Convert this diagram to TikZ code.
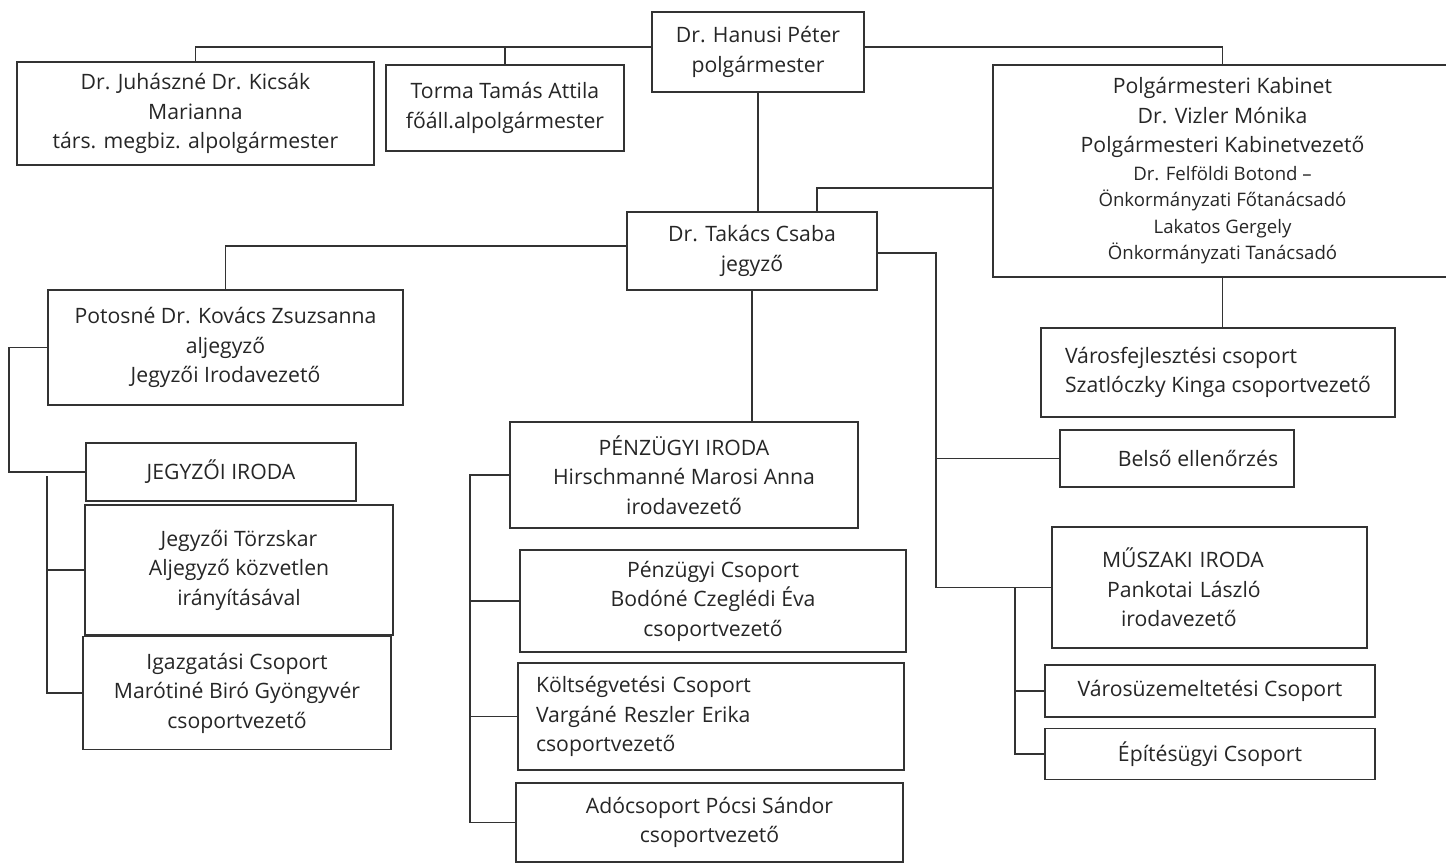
\documentclass[tikz,border=0pt]{standalone}
\usepackage{fontspec}
\setmainfont{Open Sans}
\usetikzlibrary{positioning}
\newcommand{\kabsmall}{\fontsize{9.3}{14.75}\selectfont}

\begin{document}
\begin{tikzpicture}[x=0.5pt, y=-0.5pt]
	\tikzstyle{unit}=[rectangle, draw=black!80, line width=0.8pt, inner sep=2pt, align=center, text=black!85, font=\fontsize{10.6}{14.75}\selectfont]
	\tikzstyle{link}=[draw=black!80, line width=0.8pt]
	\path[use as bounding box, fill=white] (0,0) rectangle (1446,864);
	% mayor and deputies
	\node[unit, minimum width=106pt, minimum height=40pt] (hanusi) at (758,52) {Dr. Hanusi Péter\\polgármester};
	\node[unit, minimum width=178.5pt, minimum height=51.5pt] (juhasz) at (195.5,113.5) {Dr. Juhászné Dr. Kicsák\\Marianna\\társ. megbiz. alpolgármester};
	\node[unit, minimum width=119pt, minimum height=43pt] (torma) at (505,108) {Torma Tamás Attila\\főáll.alpolgármester};
	\node[unit, minimum width=229.5pt, minimum height=106pt] (kabinet) at (1222.5,171) {Polgármesteri Kabinet\\Dr. Vizler Mónika\\Polgármesteri Kabinetvezető\\[-1pt]
		\kabsmall Dr. Felföldi Botond –\\[-1.5pt]\kabsmall Önkormányzati Főtanácsadó\\[-1.5pt]\kabsmall Lakatos Gergely\\[-1.5pt]\kabsmall Önkormányzati Tanácsadó};
	\node[unit, minimum width=125pt, minimum height=39pt] (takacs) at (752,251) {Dr. Takács Csaba\\jegyző};
	\node[unit, minimum width=177pt, minimum height=44.5pt, align=left] (varosf) at (1218,372.5) {Városfejlesztési csoport\\Szatlóczky Kinga csoportvezető};
	% jegyzoi iroda
	\node[unit, minimum width=177.5pt, minimum height=57.5pt] (potos) at (225.5,347.5) {Potosné Dr. Kovács Zsuzsanna\\aljegyző\\Jegyzői Irodavezető};
	\node[unit, minimum width=135pt, minimum height=29pt] (jiroda) at (221,472) {JEGYZŐI IRODA};
	\node[unit, minimum width=154pt, minimum height=65pt] (torzs) at (239,570) {Jegyzői Törzskar\\Aljegyző közvetlen\\irányításával};
	\node[unit, minimum width=154pt, minimum height=56.5pt] (igaz) [below=0pt of torzs, xshift=-1pt] {Igazgatási Csoport\\Marótiné Biró Gyöngyvér\\csoportvezető};
	% penzugyi iroda
	\node[unit, minimum width=174pt, minimum height=53pt] (penz) at (684,475) {PÉNZÜGYI IRODA\\Hirschmanné Marosi Anna\\irodavezető};
	\node[unit, minimum width=193pt, minimum height=51pt] (pcs) at (713,601) {Pénzügyi Csoport\\Bodóné Czeglédi Éva\\csoportvezető};
	\node[unit, minimum height=53.5pt, align=left, inner xsep=9pt, text width=175pt] (kolt) at (711,716.5) {Költségvetési Csoport\\Vargáné Reszler Erika\\csoportvezető};
	\node[unit, minimum width=193.5pt, minimum height=39.5pt] (ado) at (709.5,822.5) {Adócsoport Pócsi Sándor\\csoportvezető};
	% muszaki iroda
	\node[unit, minimum width=117pt, minimum height=28.5pt] (belso) at (1177,458.5) {\hspace*{21pt}Belső ellenőrzés};
	\node[unit, minimum height=60.5pt, align=left, inner xsep=25pt, text width=107.5pt] (muszaki) at (1209.5,587.5) {MŰSZAKI IRODA\\\hspace*{2.5pt}Pankotai László\\\hspace*{9.5pt}irodavezető};
	\node[unit, minimum width=165pt, minimum height=26pt] (varosuz) at (1210,691) {Városüzemeltetési Csoport};
	\node[unit, minimum width=165pt, minimum height=25.5pt] (epit) [below=5pt of varosuz] {Építésügyi Csoport};
	\coordinate (bus r) at (936,0);
	\coordinate (bus jl) at (9,0);
	\coordinate (bus jb) at (47,476);
	\coordinate (bus p) at (470,0);
	\coordinate (bus m) at (1015,0);
	\coordinate (top left) at ([yshift=2.5pt]hanusi.west);
	% connectors
	\draw[link] (top left) -| (juhasz.north);
	\draw[link] (torma.north) -- (torma.north |- top left);
	\draw[link] ([yshift=2.5pt]hanusi.east) -| (kabinet.north);
	\draw[link] (hanusi.south) -- (hanusi.south |- takacs.north);
	\draw[link] ([yshift=-8.5pt]kabinet.west) -| ([xshift=32.5pt]takacs.north);
	\draw[link] (kabinet.south) -- (kabinet.south |- varosf.north);
	\draw[link] ([yshift=2.5pt]takacs.west) -| (potos.north);
	\draw[link] ([yshift=-1pt]takacs.east) -| (bus r |- muszaki.west) -- (muszaki.west);
	\draw[link] (belso.west) -- (belso.west -| bus r);
	\draw[link] (takacs.south) -- (takacs.south |- penz.north);
	\draw[link] (potos.west) -| (bus jl |- jiroda.west) -- (jiroda.west);
	\draw[link] (bus jb) |- (igaz.west);
	\draw[link] (torzs.west) -- (torzs.west -| bus jb);
	\draw[link] (penz.west) -| (bus p |- ado.west) -- (ado.west);
	\draw[link] (pcs.west) -- (pcs.west -| bus p);
	\draw[link] (kolt.west) -- (kolt.west -| bus p);
	\draw[link] (bus m |- muszaki.west) |- (epit.west);
	\draw[link] (varosuz.west) -- (varosuz.west -| bus m);
\end{tikzpicture}
\end{document}
